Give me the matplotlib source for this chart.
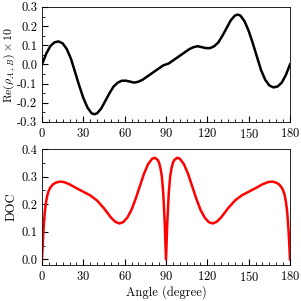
import numpy as np
import matplotlib
matplotlib.use('Agg')
import matplotlib.pyplot as plt
from matplotlib.ticker import MultipleLocator, FormatStrFormatter

plt.rcParams['font.family'] = 'serif'
plt.rcParams['font.serif'] = ['cmr10']
plt.rcParams['mathtext.fontset'] = 'cm'
plt.rcParams['axes.formatter.use_mathtext'] = True
plt.rcParams['font.size'] = 9

# top panel: Re(rho) x 10 vs angle
ang_re = [0, 3, 6, 9, 12, 15, 18, 21, 24, 27, 30, 33, 36, 38, 40, 43, 46, 49, 52, 55,
          58, 61, 64, 67, 70, 73, 76, 79, 82, 85, 88, 90,
          92, 95, 98, 101, 104, 107, 110, 113, 116, 119, 122, 125, 128, 131, 134, 137,
          140, 142, 144, 147, 150, 153, 156, 159, 162, 165, 168, 171, 174, 177, 180]
re_rho = [0.0, 0.055, 0.095, 0.115, 0.12, 0.11, 0.08, 0.03, -0.04, -0.11, -0.175, -0.225,
          -0.255, -0.26, -0.255, -0.23, -0.19, -0.15, -0.115, -0.095,
          -0.085, -0.085, -0.09, -0.095, -0.09, -0.08, -0.065, -0.05, -0.035, -0.02, -0.005, 0.0,
          0.005, 0.02, 0.035, 0.05, 0.065, 0.08, 0.09, 0.095, 0.09, 0.085, 0.085, 0.095,
          0.115, 0.15, 0.19, 0.23, 0.255, 0.26, 0.255, 0.225, 0.175, 0.11, 0.04, -0.03,
          -0.08, -0.11, -0.12, -0.115, -0.095, -0.055, 0.0]

# bottom panel: DOC vs angle
ang_doc = [0, 0.5, 1, 2, 3, 4, 5, 6, 8, 10, 13, 16, 20, 25, 30, 35, 40, 45, 50, 53, 56,
           59, 62, 65, 68, 71, 74, 77, 80, 82, 84, 85, 86, 87, 88, 89, 90,
           91, 92, 93, 94, 95, 96, 98, 100, 103, 106, 109, 112, 115, 118, 121, 124, 127,
           130, 135, 140, 145, 150, 155, 160, 164, 167, 170, 172, 174, 175, 176, 177,
           178, 179, 179.5, 180]
doc = [0.0, 0.05, 0.1, 0.17, 0.21, 0.235, 0.25, 0.26, 0.272, 0.278, 0.282, 0.28, 0.272,
       0.258, 0.245, 0.232, 0.213, 0.185, 0.152, 0.137, 0.13,
       0.135, 0.152, 0.18, 0.22, 0.265, 0.31, 0.345, 0.365, 0.368, 0.36, 0.35, 0.33, 0.3,
       0.24, 0.14, 0.0,
       0.14, 0.24, 0.3, 0.33, 0.35, 0.36, 0.368, 0.365, 0.345, 0.31, 0.265, 0.22, 0.18,
       0.152, 0.135, 0.13, 0.137, 0.152, 0.185, 0.213, 0.232, 0.245, 0.258, 0.272, 0.28,
       0.282, 0.278, 0.272, 0.26, 0.25, 0.235, 0.21, 0.17, 0.1, 0.05, 0.0]

fig = plt.figure(figsize=(3.01, 3.01), dpi=100)
ax1 = fig.add_axes([0.1395, 0.595, 0.824, 0.382])
ax2 = fig.add_axes([0.1395, 0.120, 0.824, 0.385])

ax1.plot(ang_re, re_rho, color='black', lw=1.8)
ax1.set_ylim(-0.3, 0.3)
ax1.set_ylabel(r'Re$(\rho_{A_+B})\times10$', fontsize=8.5)

ax2.plot(ang_doc, doc, color='red', lw=1.8)
ax2.set_ylim(-0.02, 0.4)
ax2.set_ylabel('DOC')
ax2.set_xlabel('Angle (degree)', labelpad=1)

for ax in (ax1, ax2):
    ax.set_xlim(0, 180)
    ax.xaxis.set_major_locator(MultipleLocator(30))
    ax.xaxis.set_minor_locator(MultipleLocator(5))
    ax.yaxis.set_major_locator(MultipleLocator(0.1))
    ax.yaxis.set_minor_locator(MultipleLocator(0.05))
    ax.tick_params(which='both', direction='in')
    ax.tick_params(which='major', length=4)
    ax.tick_params(which='minor', length=2)
    ax.yaxis.set_major_formatter(FormatStrFormatter('%.1f'))
    ax.yaxis.set_label_coords(-0.098, 0.5)
    for s in ax.spines.values():
        s.set_linewidth(0.6)

fig.savefig('out.png', dpi=100)
